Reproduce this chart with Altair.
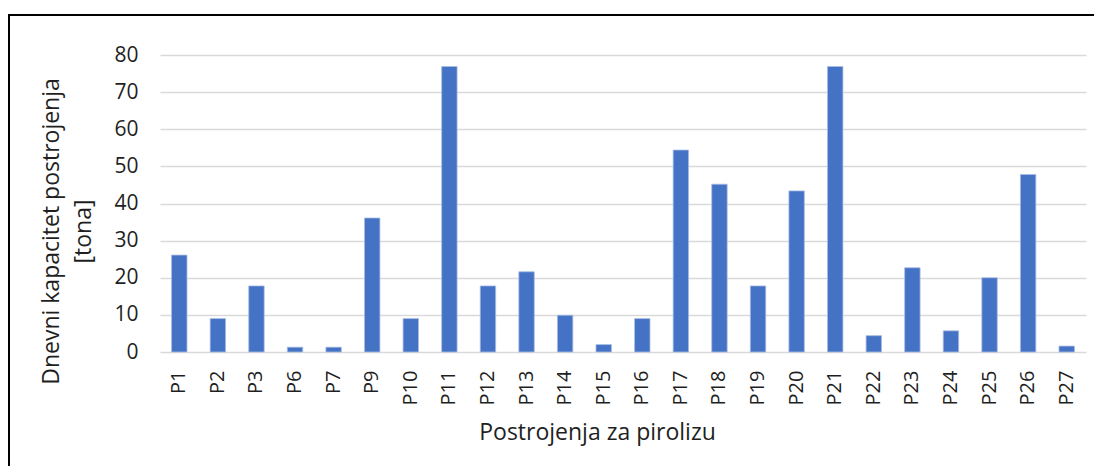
import altair as alt
import pandas as pd

categories = ["P1", "P2", "P3", "P6", "P7", "P9", "P10", "P11", "P12", "P13", "P14", "P15",
              "P16", "P17", "P18", "P19", "P20", "P21", "P22", "P23", "P24", "P25", "P26", "P27"]
values = [26.1, 9.0, 17.8, 1.3, 1.3, 36.1, 9.0, 76.9, 17.8, 21.6, 9.9, 2.0,
          9.0, 54.4, 45.2, 17.8, 43.4, 76.9, 4.4, 22.7, 5.7, 20.0, 47.8, 1.6]
y_ticks = [0, 10, 20, 30, 40, 50, 60, 70, 80]

df = pd.DataFrame({"plant": categories, "cap": values})

FONT = "Open Sans"
W, H = 926, 297

bars = alt.Chart(df).mark_bar(color="#4472C4", stroke="#a9bde3", strokeWidth=0.8).encode(
    x=alt.X("plant:N", sort=categories,
            scale=alt.Scale(paddingInner=0.6, paddingOuter=0.3),
            axis=alt.Axis(title="Postrojenja za pirolizu", labelAngle=-90, labelAlign="right",
                          labelBaseline="middle", labelPadding=18, ticks=False, domain=False,
                          labelFont=FONT, labelFontSize=20, labelColor="#1f1f1f",
                          titleFont=FONT, titleFontSize=23, titleFontWeight="normal",
                          titleColor="#1f1f1f", titleX=437, titleY=80, titleBaseline="middle",
                          titleAnchor="start", titleAlign="center")),
    y=alt.Y("cap:Q", scale=alt.Scale(domain=[0, 80], nice=False),
            axis=alt.Axis(title=["Dnevni kapacitet postrojenja", "[tona]"], values=y_ticks,
                          ticks=False, domain=False, labelPadding=22,
                          labelFont=FONT, labelFontSize=21, labelColor="#1f1f1f",
                          grid=True, gridColor="#d9d9d9", gridWidth=1.4,
                          titleFont=FONT, titleFontSize=23, titleFontWeight="normal",
                          titleColor="#1f1f1f", titleX=-120, titleY=176, titleAngle=-90,
                          titleAlign="center", titleBaseline="top", titleLineHeight=32)),
)

frame_top = alt.Chart(df).mark_rule(color="#000000", strokeWidth=2).encode(
    x=alt.value(-151), x2=alt.value(960), y=alt.value(-40))
frame_left = alt.Chart(df).mark_rule(color="#000000", strokeWidth=2).encode(
    x=alt.value(-151), y=alt.value(-41), y2=alt.value(420))

chart = alt.layer(bars, frame_top, frame_left).properties(
    width=W, height=H,
    autosize=alt.AutoSizeParams(type="none"),
    padding={"left": 152, "top": 47, "right": 8, "bottom": 114},
).configure_view(stroke=None)

chart.save("out.html", embed_options={"renderer": "svg", "actions": False})
